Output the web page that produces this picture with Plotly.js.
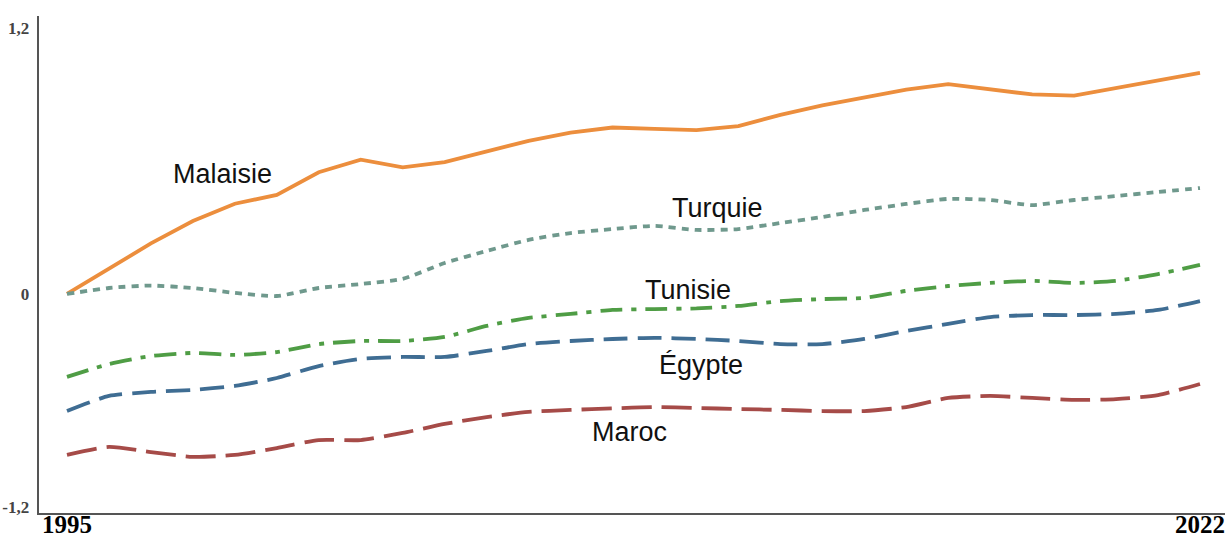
<!DOCTYPE html>
<html>
<head>
<meta charset="utf-8">
<script src="https://cdn.plot.ly/plotly-3.0.1.min.js"></script>
<style>
html,body{margin:0;padding:0;background:#fff;}
#chart{width:1229px;height:539px;}
</style>
</head>
<body>
<div id="chart"></div>
<script>
const years = [1995,1996,1997,1998,1999,2000,2001,2002,2003,2004,2005,2006,2007,2008,2009,2010,2011,2012,2013,2014,2015,2016,2017,2018,2019,2020,2021,2022];

const malaisie = [0,0.112,0.228,0.329,0.407,0.447,0.549,0.606,0.571,0.595,0.645,0.691,0.728,0.751,0.745,0.739,0.757,0.808,0.851,0.886,0.922,0.947,0.924,0.900,0.895,0.929,0.963,0.997];
const turquie = [0,0.027,0.038,0.027,0.005,-0.009,0.027,0.045,0.068,0.140,0.194,0.244,0.275,0.293,0.307,0.289,0.293,0.320,0.347,0.379,0.406,0.429,0.424,0.401,0.424,0.442,0.460,0.478];
const tunisie = [-0.374,-0.316,-0.280,-0.266,-0.275,-0.262,-0.226,-0.212,-0.212,-0.194,-0.144,-0.108,-0.090,-0.072,-0.068,-0.065,-0.054,-0.032,-0.023,-0.018,0.014,0.036,0.050,0.059,0.050,0.059,0.090,0.131];
const egypte = [-0.528,-0.460,-0.442,-0.433,-0.415,-0.379,-0.325,-0.293,-0.284,-0.284,-0.257,-0.226,-0.212,-0.203,-0.198,-0.203,-0.212,-0.226,-0.226,-0.203,-0.167,-0.135,-0.104,-0.095,-0.095,-0.090,-0.072,-0.032];
const maroc = [-0.726,-0.690,-0.713,-0.735,-0.726,-0.695,-0.659,-0.659,-0.627,-0.586,-0.555,-0.532,-0.523,-0.516,-0.510,-0.514,-0.519,-0.523,-0.528,-0.528,-0.510,-0.469,-0.460,-0.469,-0.478,-0.474,-0.456,-0.406];

const seriesNames = ['Malaisie','Turquie','Tunisie','Égypte','Maroc'];
const xTickVals = [1995, 2022];
const xTickText = ['1995', '2022'];
const yTickVals = [1.2, 0, -0.96];
const yTickText = ['1,2', '0', '-1,2'];

// label anchor positions (data coords)
const labelX = [1998.7, 2010.5, 2009.8, 2010.1, 2008.4];
const labelY = [0.54, 0.388, 0.018, -0.32, -0.624];

const values = [malaisie, turquie, tunisie, egypte, maroc];
const colors = ['#ec8e3d','#6f998d','#4f9d45','#3f6d93','#a64b48'];
const dashes = ['solid','7px,6px','22px,9px,5px,9px','24px,10px','30px,10px'];
const shapes = ['linear','spline','spline','spline','spline'];

const traces = values.map((v,i)=>({
  x: years, y: v, type:'scatter', mode:'lines', name: seriesNames[i],
  line:{color:colors[i], width:3.8, dash:dashes[i], shape:shapes[i], smoothing:0.6},
  hoverinfo:'skip'
}));

const annotations = seriesNames.map((n,i)=>({
  x: labelX[i], y: labelY[i], xref:'x', yref:'y', text:n, showarrow:false,
  font:{family:'Liberation Sans, Arial, sans-serif', size:27, color:'#111'}
}));

// x-axis end labels drawn as annotations just below the axis line
xTickVals.forEach((v,i)=>{
  annotations.push({
    x: v, y: 0, xref:'x', yref:'paper', yanchor:'top', text: xTickText[i],
    showarrow:false, yshift:3, borderpad:0,
    font:{family:'Liberation Serif, Times New Roman, serif', size:25, color:'#000', weight:'bold'}
  });
});

const layout = {
  width:1229, height:539,
  margin:{l:39, r:4, t:16, b:26, pad:0},
  paper_bgcolor:'#fff', plot_bgcolor:'#fff',
  showlegend:false,
  xaxis:{
    range:[1994.333, 2022.596], showgrid:false, zeroline:false,
    showline:true, linecolor:'#555', linewidth:2.4,
    showticklabels:false, ticks:''
  },
  yaxis:{
    range:[-0.988, 1.254], showgrid:false, zeroline:false,
    showline:true, linecolor:'#555', linewidth:2.4,
    tickmode:'array', tickvals:yTickVals, ticktext:yTickText, ticks:'',
    tickfont:{family:'Liberation Serif, Times New Roman, serif', size:17, color:'#444', weight:'bold'},
    ticklabelstandoff:4
  },
  annotations: annotations
};

Plotly.newPlot('chart', traces, layout, {staticPlot:true, displayModeBar:false});
</script>
</body>
</html>
